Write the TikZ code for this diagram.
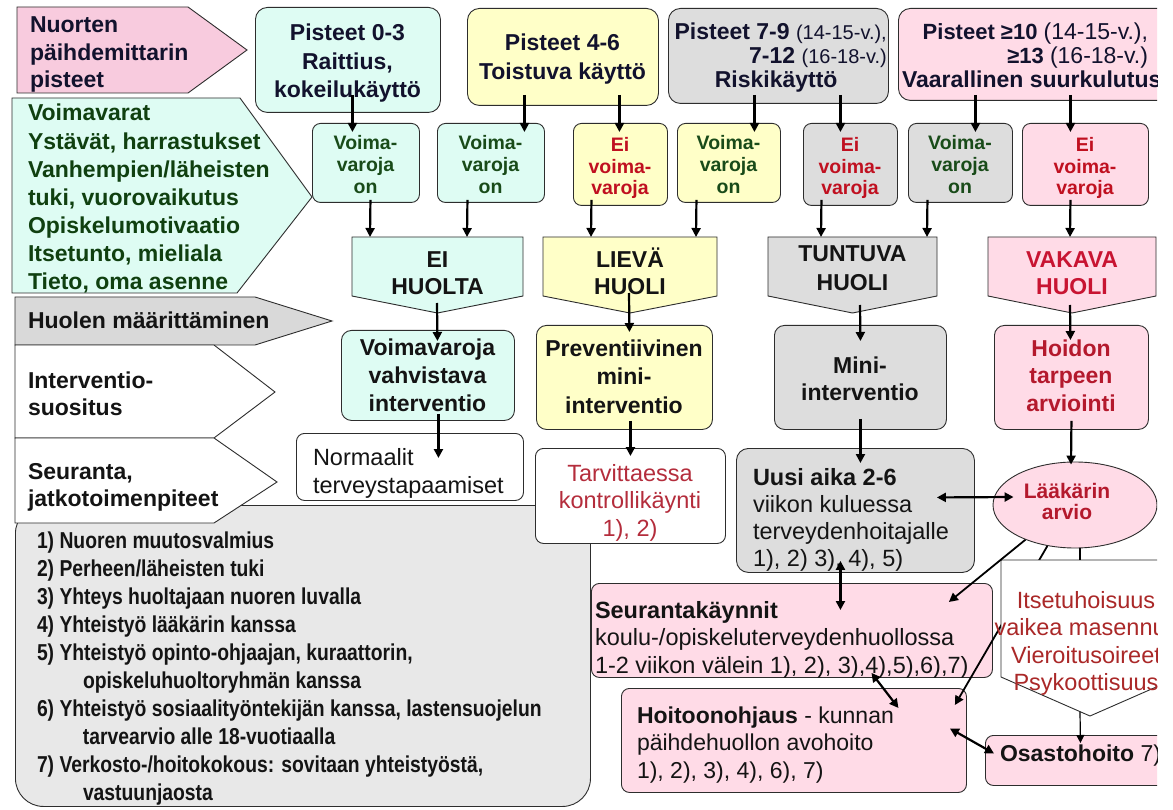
\documentclass[tikz,border=0pt]{standalone}
\usepackage{fontspec}
\setmainfont{Liberation Sans}
\newfontfamily\narrowfont[FakeStretch=0.84]{Liberation Sans}
\usetikzlibrary{arrows.meta,shapes.geometric}
\definecolor{pinkA}{RGB}{248,203,222}
\definecolor{pinkB}{RGB}{255,219,231}
\definecolor{cyanA}{RGB}{222,252,243}
\definecolor{yelA}{RGB}{255,255,200}
\definecolor{greyA}{RGB}{221,221,221}
\definecolor{greyB}{RGB}{232,232,232}
\definecolor{greyC}{RGB}{217,217,217}
\definecolor{lineC}{RGB}{45,45,45}
\definecolor{txtN}{RGB}{18,18,45}
\definecolor{txtK}{RGB}{20,20,20}
\definecolor{dgreen}{RGB}{25,75,25}
\definecolor{dgreenL}{RGB}{16,64,16}
\definecolor{redA}{RGB}{192,16,32}
\definecolor{redV}{RGB}{200,20,50}
\definecolor{redH}{RGB}{180,25,45}
\definecolor{redT}{RGB}{180,45,60}
\definecolor{redX}{RGB}{170,40,40}
\newcommand\fB[2]{\bfseries\fontsize{#1}{#2}\selectfont}
\newcommand\fR[2]{\fontsize{#1}{#2}\selectfont}
\tikzset{
  bx/.style={draw=lineC, line width=0.9pt, rounded corners=10pt, inner sep=0pt, anchor=north west},
  shp/.style={draw=lineC, line width=0.9pt},
  tl/.style={anchor=base west, align=left, inner sep=0pt, outer sep=0pt},
  tc/.style={anchor=base, align=center, inner sep=0pt, outer sep=0pt},
  arr/.style={line width=2.2pt, -{Triangle[length=9pt,width=9pt]}},
  arrm/.style={line width=1.8pt, -{Triangle[length=9pt,width=9pt]}},
  darr/.style={line width=2.2pt, {Triangle[length=9pt,width=9pt]}-{Triangle[length=9pt,width=9pt]}},
  tarr/.style={line width=1.2pt, -{Triangle[length=8pt,width=8pt]}},
  tline/.style={line width=1.2pt}
}
\begin{document}
\begin{tikzpicture}[x=1pt,y=-1pt]
\useasboundingbox (0,0) rectangle (1173,810);
\fill[white] (0,0) rectangle (1173,810);
\begin{scope}
\clip (0,0) rectangle (1157,810);

% legend (text anchors are at the baseline of the last line)
\node[bx, fill=greyB, rounded corners=28pt, minimum width=575pt, minimum height=301pt] (leg) at (15,505) {};
\node[tl, font=\narrowfont\fB{23}{28.1}, text=txtK] (legt) at (37,800.9) {1) Nuoren muutosvalmius\\2) Perheen/läheisten tuki\\3) Yhteys huoltajaan nuoren luvalla\\4) Yhteistyö lääkärin kanssa\\5) Yhteistyö opinto-ohjaajan, kuraattorin,\\\hspace*{46pt}opiskeluhuoltoryhmän kanssa\\6) Yhteistyö sosiaalityöntekijän kanssa, lastensuojelun\\\hspace*{46pt}tarvearvio alle 18-vuotiaalla\\7) Verkosto-/hoitokokous: sovitaan yhteistyöstä,\\\hspace*{46pt}vastuunjaosta};

% left column
\draw[shp, fill=pinkA] (17,7) -- (188,7) -- (247,50) -- (188,93) -- (17,93) -- cycle;
\node[tl, font=\fB{23}{27.5}, text=txtN] (l1) at (30,88) {Nuorten\\päihdemittarin\\pisteet};
\draw[shp, fill=cyanA] (12,98) -- (240,98) -- (312,197) -- (237,293) -- (12,293) -- cycle;
\node[tl, font=\fB{23}{28.1}, text=dgreenL] (l2) at (28,289.6) {Voimavarat\\Ystävät, harrastukset\\Vanhempien/läheisten\\tuki, vuorovaikutus\\Opiskelumotivaatio\\Itsetunto, mieliala\\Tieto, oma asenne};
\draw[shp, fill=greyC] (15,297) -- (255,297) -- (332,321) -- (255,345) -- (15,345) -- cycle;
\node[tl, font=\fB{23}{27}, text=txtK] (l3) at (28,329) {Huolen määrittäminen};
\draw[shp, fill=white] (15,345) -- (214,345) -- (275,392) -- (214,438) -- (15,438) -- cycle;
\node[tl, font=\fB{23}{27}, text=txtK] (l4) at (28,415) {Interventio-\\suositus};
\draw[shp, fill=white] (15,438) -- (214,438) -- (277,482) -- (214,523) -- (15,523) -- cycle;
\node[tl, font=\fB{23}{27}, text=txtK] (l5) at (28,506) {Seuranta,\\jatkotoimenpiteet};

% top row
\node[bx, fill=cyanA, minimum width=185pt, minimum height=105pt, rounded corners=12pt] (p03) at (255,7) {};
\node[tc, font=\fB{23}{28.5}, text=txtN] (p03t) at (347.5,98) {Pisteet 0-3\\Raittius,\\kokeilukäyttö};
\node[bx, fill=yelA, minimum width=191pt, minimum height=97pt, rounded corners=12pt] (p46) at (467,8) {};
\node[tc, font=\fB{23}{29}, text=txtN] (p46t) at (562.5,80) {Pisteet 4-6\\Toistuva käyttö};
\node[bx, fill=greyA, minimum width=220pt, minimum height=95pt, rounded corners=12pt] (p79) at (668,8) {};
\node[anchor=base east, align=right, inner sep=0pt, font=\fB{23}{24}, text=txtN] (p79t) at (887,88) {Pisteet 7-9 {\mdseries\fR{20}{24}(14-15-v.),}\\7-12 {\mdseries\fR{20}{24}(16-18-v.)}\\\makebox[172pt][l]{Riskikäyttö}};
\node[bx, fill=pinkB, minimum width=300pt, minimum height=92pt, rounded corners=12pt] (p10) at (898,8) {};
\node[tl, font=\fB{22}{24}, text=txtN] (p10t) at (902,88) {\makebox[246pt][r]{Pisteet ≥10 {\mdseries\fR{23}{24}(14-15-v.),}}\\\makebox[246pt][r]{≥13 {\mdseries\fR{23}{24}(16-18-v.)}}\\{\fB{23}{24}Vaarallinen suurkulutus}};

% second row
\node[bx, fill=cyanA, minimum width=107pt, minimum height=79pt, rounded corners=8pt] (v1) at (312,123) {};
\node[tc, font=\fB{19.5}{22}, text=dgreen] (v1t) at (365.5,194) {Voima-\\varoja\\on};
\node[bx, fill=cyanA, minimum width=107pt, minimum height=79pt, rounded corners=8pt] (v2) at (437,123) {};
\node[tc, font=\fB{19.5}{22}, text=dgreen] (v2t) at (490.5,194) {Voima-\\varoja\\on};
\node[bx, fill=yelA, minimum width=94pt, minimum height=82pt, rounded corners=8pt] (e1) at (573,123) {};
\node[tc, font=\fB{19.5}{21.5}, text=redA] (e1t) at (620,195) {Ei\\voima-\\varoja};
\node[bx, fill=yelA, minimum width=103pt, minimum height=79pt, rounded corners=8pt] (v3) at (677,123) {};
\node[tc, font=\fB{19.5}{22}, text=dgreen] (v3t) at (728.5,194) {Voima-\\varoja\\on};
\node[bx, fill=greyA, minimum width=94pt, minimum height=82pt, rounded corners=8pt] (e2) at (803,123) {};
\node[tc, font=\fB{19.5}{21.5}, text=redA] (e2t) at (850,195) {Ei\\voima-\\varoja};
\node[bx, fill=greyA, minimum width=104pt, minimum height=79pt, rounded corners=8pt] (v4) at (908,123) {};
\node[tc, font=\fB{19.5}{22}, text=dgreen] (v4t) at (960,194) {Voima-\\varoja\\on};
\node[bx, fill=pinkB, minimum width=126pt, minimum height=82pt, rounded corners=8pt] (e3) at (1022,123) {};
\node[tc, font=\fB{19.5}{21.5}, text=redA] (e3t) at (1085,195) {Ei\\voima-\\varoja};

% huoli shapes
\draw[shp, fill=cyanA] (352,237) -- (523,237) -- (523,296) -- (437.5,313) -- (352,296) -- cycle;
\coordinate (h1n) at (437.5,237); \coordinate (h1s) at (437.5,313);
\node[tc, font=\fB{23}{27}, text=txtK] (h1) at (437.5,295) {EI\\HUOLTA};
\draw[shp, fill=yelA] (543,237) -- (717,237) -- (717,296) -- (630,313) -- (543,296) -- cycle;
\coordinate (h2n) at (630,237); \coordinate (h2s) at (630,313);
\node[tc, font=\fB{23}{27}, text=txtK] (h2) at (630,295) {LIEVÄ\\HUOLI};
\draw[shp, fill=greyA] (768,237) -- (937,237) -- (937,296) -- (852.5,313) -- (768,296) -- cycle;
\coordinate (h3n) at (852.5,237); \coordinate (h3s) at (852.5,313);
\node[tc, font=\fB{23}{29}, text=txtK] (h3) at (852.5,291) {TUNTUVA\\HUOLI};
\draw[shp, fill=pinkB] (988,237) -- (1156,237) -- (1156,296) -- (1072,313) -- (988,296) -- cycle;
\coordinate (h4n) at (1072,237); \coordinate (h4s) at (1072,313);
\node[tc, font=\fB{23}{27}, text=redV] (h4) at (1072,295) {VAKAVA\\HUOLI};

% intervention row
\node[bx, fill=cyanA, minimum width=173pt, minimum height=90pt] (i1) at (341,330) {};
\node[tc, font=\fB{23}{28}, text=txtK] (i1t) at (427.5,411) {Voimavaroja\\vahvistava\\interventio};
\node[bx, fill=yelA, minimum width=176pt, minimum height=104pt] (i2) at (536,325) {};
\node[tc, font=\fB{23}{28.5}, text=txtK] (i2t) at (624,413) {Preventiivinen\\mini-\\interventio};
\node[bx, fill=greyA, minimum width=172pt, minimum height=104pt] (i3) at (774,325) {};
\node[tc, font=\fB{23}{27}, text=txtK] (i3t) at (860,400) {Mini-\\interventio};
\node[bx, fill=pinkB, minimum width=154pt, minimum height=104pt] (i4) at (994,325) {};
\node[tc, font=\fB{23}{27.5}, text=redH] (i4t) at (1071,411) {Hoidon\\tarpeen\\arviointi};

% follow-up row
\node[bx, fill=white, minimum width=227pt, minimum height=67pt, rounded corners=8pt] (nor) at (296,433) {};
\node[tl, font=\fR{23.5}{28}, text=txtK] (nort) at (313,493) {Normaalit\\terveystapaamiset};
\node[bx, fill=white, minimum width=190pt, minimum height=95pt, rounded corners=8pt] (tar) at (535,448) {};
\node[tc, font=\fR{23.5}{27.5}, text=redT] (tart) at (630,536) {Tarvittaessa\\kontrollikäynti\\1), 2)};
\node[bx, fill=greyA, minimum width=238pt, minimum height=124pt, rounded corners=12pt] (uus) at (736,448) {};
\node[tl, font=\fR{23.5}{27}, text=txtK] (uust) at (753,566) {{\bfseries Uusi aika 2-6}\\viikon kuluessa\\terveydenhoitajalle\\1), 2) 3), 4), 5)};
\node[draw=lineC, line width=0.9pt, fill=pinkB, ellipse, minimum width=164pt, minimum height=86pt, inner sep=0pt] (lae) at (1075,505) {};
\node[tc, font=\fB{21}{21}, text=redH] (laet) at (1067,519) {Lääkärin\\arvio};

% bottom boxes
\node[bx, fill=pinkB, minimum width=401pt, minimum height=94pt, rounded corners=8pt] (seu) at (591,583) {};
\node[tl, font=\fR{23.5}{27.5}, text=txtK] (seut) at (595,673) {{\bfseries Seurantakäynnit}\\koulu-/opiskeluterveydenhuollossa\\1-2 viikon välein 1), 2), 3),4),5),6),7)};
\node[bx, fill=pinkB, minimum width=345pt, minimum height=104pt, rounded corners=8pt] (hoi) at (621,688) {};
\node[tl, font=\fR{23}{27.5}, text=txtK] (hoit) at (637,778) {{\bfseries Hoitoonohjaus} - kunnan\\päihdehuollon avohoito\\1), 2), 3), 4), 6), 7)};
\node[bx, fill=pinkB, minimum width=250pt, minimum height=50pt, rounded corners=8pt] (osa) at (985,735) {};
\node[tl, font=\fR{23}{27}, text=txtK] (osat) at (1000,761) {{\bfseries Osastohoito} 7)};

% arrows: top row -> second row
\draw[arr] ([xshift=4.5pt,yshift=18pt]p03.south) -- ([xshift=-13.5pt,yshift=-9pt]v1.north);
\draw[arr] ([xshift=-38.5pt,yshift=11pt]p46.south) -- ([xshift=33.5pt,yshift=-9pt]v2.north);
\draw[arr] ([xshift=56.5pt,yshift=11pt]p46.south) -- ([xshift=-1pt,yshift=-9pt]e1.north);
\draw[arr] ([xshift=-24pt,yshift=9pt]p79.south) -- ([xshift=25.5pt,yshift=-9pt]v3.north);
\draw[arr] ([xshift=62pt,yshift=9pt]p79.south) -- ([xshift=-10pt,yshift=-9pt]e2.north);
\draw[arr] ([xshift=-73pt,yshift=6pt]p10.south) -- ([xshift=15pt,yshift=-9pt]v4.north);
\draw[arr] ([xshift=22pt,yshift=6pt]p10.south) -- ([xshift=-15pt,yshift=-9pt]e3.north);
% second row -> huoli
\draw[arr] ([xshift=4.5pt,yshift=3pt]v1.south) -- ([xshift=-67.5pt]h1n);
\draw[arr] ([xshift=-23.5pt,yshift=3pt]v2.south) -- ([xshift=29.5pt]h1n);
\draw[arr] ([xshift=-29pt,yshift=6pt]e1.south) -- ([xshift=-39pt]h2n);
\draw[arr] ([xshift=-32.5pt,yshift=3pt]v3.south) -- ([xshift=66pt]h2n);
\draw[arr] ([xshift=-29pt,yshift=6pt]e2.south) -- ([xshift=-31.5pt]h3n);
\draw[arr] ([xshift=-33pt,yshift=3pt]v4.south) -- ([xshift=74.5pt]h3n);
\draw[arr] ([xshift=-15pt,yshift=6pt]e3.south) -- ([xshift=-2pt]h4n);
% huoli -> intervention
\draw[arr] ([xshift=-0.5pt,yshift=10pt]h1s) -- ([xshift=9.5pt,yshift=-11pt]i1.north);
\draw[arr] ([xshift=-1pt,yshift=20pt]h2s) -- ([xshift=5pt,yshift=-7pt]i2.north);
\draw[arr] ([xshift=7.5pt,yshift=8pt]h3s) -- ([yshift=-16pt]i3.north);
\draw[arr] ([xshift=-2pt,yshift=8pt]h4s) -- ([xshift=-1pt,yshift=-15pt]i4.north);
% intervention -> follow-up
\draw[arr] ([xshift=10.5pt,yshift=7pt]i1.south) -- ([xshift=28.5pt,yshift=-25pt]nor.north);
\draw[arr] ([xshift=6pt,yshift=9pt]i2.south) -- ([yshift=-8pt]tar.north);
\draw[arr] ([yshift=11pt]i3.south) -- ([xshift=5pt,yshift=-15pt]uus.north);
\draw[arr] ([yshift=9pt]i4.south) -- ([xshift=-4pt,yshift=-3pt]lae.north);
% lower connectors
\draw[darr] ([xshift=-38pt,yshift=13pt]uus.east) -- ([xshift=21pt,yshift=8pt]lae.west);
\draw[darr] ([xshift=-15pt,yshift=12pt]uus.south) -- ([xshift=48.5pt,yshift=-27pt]seu.north);
\draw[darr] ([xshift=79.5pt,yshift=5pt]seu.south) -- ([xshift=104.5pt,yshift=-20pt]hoi.north);
\draw[darr] ([xshift=-17pt,yshift=12pt]hoi.east) -- ([xshift=9pt,yshift=7pt]osa.west);
\draw[arrm] (lae.236) -- ([xshift=-12pt,yshift=-17pt]hoi.north east);

% hexagon
\draw[shp, fill=white] (1001,560) -- (1179,560) -- (1179,677) -- (1090,716) -- (1001,677) -- cycle;
\coordinate (hexn) at (1080,560); \coordinate (hexs) at (1090,716);
\node[tc, font=\fR{23.5}{27.5}, text=redX] (hext) at (1086,690.5) {Itsetuhoisuus\\vaikea masennus\\Vieroitusoireet\\Psykoottisuus};

\draw[arrm] (lae.215) -- ([xshift=-44pt,yshift=-19pt]seu.north east);
\draw[tline] (lae.south -| hexn) -- (hexn);
\draw[tarr] ([xshift=-10pt,yshift=4pt]hexs) -- ([xshift=-30pt,yshift=-8pt]osa.north);
\end{scope}
\end{tikzpicture}
\end{document}
